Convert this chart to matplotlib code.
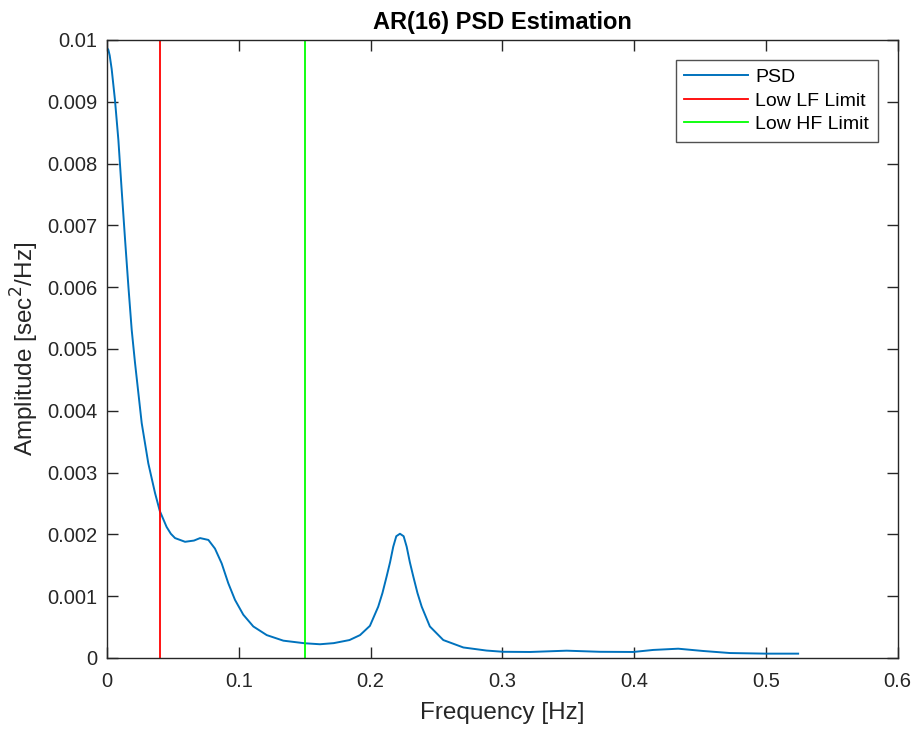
import numpy as np
import matplotlib.pyplot as plt

plt.rcParams['font.family'] = ['Liberation Sans', 'DejaVu Sans']

# values
freq = [0.0, 0.001, 0.002, 0.0035, 0.006, 0.0086, 0.0111, 0.0137, 0.0162,
        0.0187, 0.0212, 0.0263, 0.0313, 0.0364, 0.040, 0.0452, 0.0484, 0.0516,
        0.0592, 0.066, 0.0706, 0.0769, 0.0819, 0.087, 0.092, 0.0971, 0.1034,
        0.111, 0.1212, 0.1338, 0.150, 0.1616, 0.172, 0.184, 0.192, 0.1995,
        0.2058, 0.209, 0.2122, 0.2148, 0.2172, 0.2195, 0.2223, 0.2251, 0.2274,
        0.2298, 0.2324, 0.2356, 0.2388, 0.245, 0.2552, 0.2704, 0.288, 0.3007,
        0.321, 0.3488, 0.374, 0.3993, 0.4145, 0.4335, 0.4524, 0.4727, 0.5005,
        0.5245]
psd = [0.00987, 0.00984, 0.00975, 0.00953, 0.00903, 0.00838, 0.00757, 0.00676,
       0.00601, 0.00531, 0.00478, 0.0038, 0.00315, 0.00267, 0.00238, 0.00212,
       0.00201, 0.00194, 0.00188, 0.0019, 0.00194, 0.00191, 0.00177, 0.00153,
       0.00121, 0.00094, 0.0007, 0.00051, 0.00037, 0.00028, 0.000238,
       0.000222, 0.00024, 0.00029, 0.00037, 0.00052, 0.00083, 0.00105,
       0.00132, 0.00155, 0.0018, 0.00197, 0.00201, 0.00197, 0.0018, 0.00155,
       0.00132, 0.00105, 0.00083, 0.00051, 0.00029, 0.00017, 0.00012, 0.0001,
       0.000097, 0.000118, 0.0001, 0.000097, 0.00013, 0.00015, 0.000113,
       0.00008, 0.00007, 0.00007]
lf_limit = 0.04
hf_limit = 0.15

fig = plt.figure(figsize=(9.15, 7.31), dpi=100)
ax = fig.add_axes([0.117, 0.0999, 0.864, 0.8454])

ax.plot(freq, psd, color='#0072BD', lw=1.4, label='PSD')
ax.axvline(lf_limit, color='#FF0000', lw=1.3, label='Low LF Limit')
ax.axvline(hf_limit, color='#00FF00', lw=1.3, label='Low HF Limit')

ax.set_xlim(0, 0.6)
ax.set_ylim(0, 0.01)
ax.set_xticks(np.arange(0, 0.61, 0.1))
ax.set_xticklabels(['0', '0.1', '0.2', '0.3', '0.4', '0.5', '0.6'])
ax.set_yticks(np.arange(0, 0.0101, 0.001))
ax.set_yticklabels(['0'] + ['%.3f' % v for v in np.arange(0.001, 0.0096, 0.001)] + ['0.01'])
ax.tick_params(direction='in', top=True, right=True, length=8, width=1,
               labelsize=14.5, colors='#262626')
ax.tick_params(axis='x', pad=10)
ax.tick_params(axis='y', pad=7)
for s in ax.spines.values():
    s.set_color('#262626')
    s.set_linewidth(1)

ax.set_title('AR(16) PSD Estimation', fontsize=17, fontweight='bold', pad=8)
ax.set_xlabel('Frequency [Hz]', fontsize=17.5, color='#262626')
ax.set_ylabel('Amplitude [sec$^2$/Hz]', fontsize=17.5, color='#262626')
ax.xaxis.set_label_coords(0.5, -0.072)
ax.yaxis.set_label_coords(-0.0837, 0.5)

leg = ax.legend(loc='upper right', bbox_to_anchor=(0.975, 0.968), fontsize=14,
                fancybox=False, edgecolor='#262626', handlelength=3.3,
                borderpad=0.45, labelspacing=0.3, handletextpad=0.35,
                borderaxespad=0)
leg.get_frame().set_linewidth(1)

fig.savefig('out.png', dpi=100)
